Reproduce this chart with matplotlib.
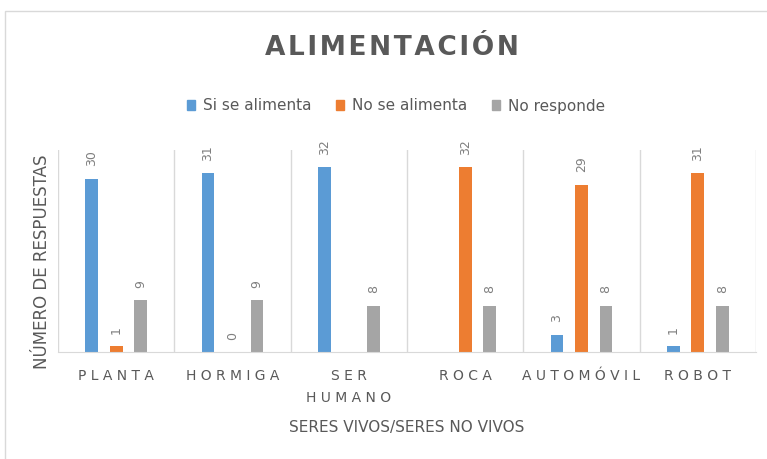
# bar chart: alimentacion por categoria
import matplotlib
matplotlib.use('Agg')
import matplotlib.pyplot as plt
from matplotlib.patches import Rectangle
import numpy as np

# data
categorias = ['PLANTA', 'HORMIGA', 'SER\nHUMANO', 'ROCA', 'AUTOMÓVIL', 'ROBOT']
si_se_alimenta = [30, 31, 32, None, 3, 1]
no_se_alimenta = [1, 0, None, 32, 29, 31]
no_responde = [9, 9, 8, 8, 8, 8]
series_names = ['Si se alimenta', 'No se alimenta', 'No responde']
colors = ['#5b9bd5', '#ed7d31', '#a5a5a5']

text_grey = '#595959'

def spaced(label, sep=' '):
    '''adds letter spacing to each line of a label'''
    return '\n'.join(sep.join(line) for line in label.split('\n'))

fig = plt.figure(figsize=(7.67, 4.59), dpi=100)
ax = fig.add_axes([58 / 767, 1 - 352 / 459, (756 - 58) / 767, (352 - 150) / 459])

x = np.arange(len(categorias))
offsets = [-0.21, 0, 0.21]
width = 0.11

handles = []
for vals, off, col, name in zip([si_se_alimenta, no_se_alimenta, no_responde], offsets, colors, series_names):
    for i, v in enumerate(vals):
        if v is None:
            continue
        ax.bar(x[i] + off, v, width, color=col)
        ax.annotate(str(v), (x[i] + off, v), xytext=(0, 9), textcoords='offset points',
                    rotation=90, ha='center', va='bottom', fontsize=9, color='#7f7f7f')
    handles.append(Rectangle((0, 0), 1, 1, color=col, label=name))

# category separators
for b in np.arange(-0.5, len(categorias), 1):
    ax.axvline(b, color='#d9d9d9', lw=1, zorder=0)

ax.set_xlim(-0.5, len(categorias) - 0.5)
ax.set_ylim(0, 35)
ax.set_yticks([])
for s in ['top', 'right', 'left']:
    ax.spines[s].set_visible(False)
ax.spines['bottom'].set_color('#d9d9d9')

ax.set_xticks(x)
ax.set_xticklabels([spaced(c) for c in categorias], fontsize=10, color=text_grey, linespacing=1.75)
ax.tick_params(axis='x', length=0, pad=12)

ax.set_xlabel('SERES VIVOS/SERES NO VIVOS', fontsize=11, color=text_grey, labelpad=11)
ax.set_ylabel('NÚMERO DE RESPUESTAS', fontsize=12, color=text_grey)
ax.yaxis.set_label_coords(-7 / 698, (352 - 262) / 202)

fig.text(392 / 767, 1 - 48 / 459, spaced('ALIMENTACIÓN', '\u200a'), ha='center', va='center',
         fontsize=19, fontweight='bold', color=text_grey)

fig.legend(handles=handles, loc='center', bbox_to_anchor=(396 / 767, 1 - 106 / 459), ncol=3,
           frameon=False, fontsize=11, handlelength=0.55, handleheight=0.55,
           handletextpad=0.5, columnspacing=1.6, labelcolor=text_grey)

# outer chart border
fig.patches.append(Rectangle((5 / 767, -0.1), 1.1, 1.1 - 11 / 459, transform=fig.transFigure,
                             fill=False, edgecolor='#d9d9d9', lw=1))

fig.savefig('out.png', dpi=100)
